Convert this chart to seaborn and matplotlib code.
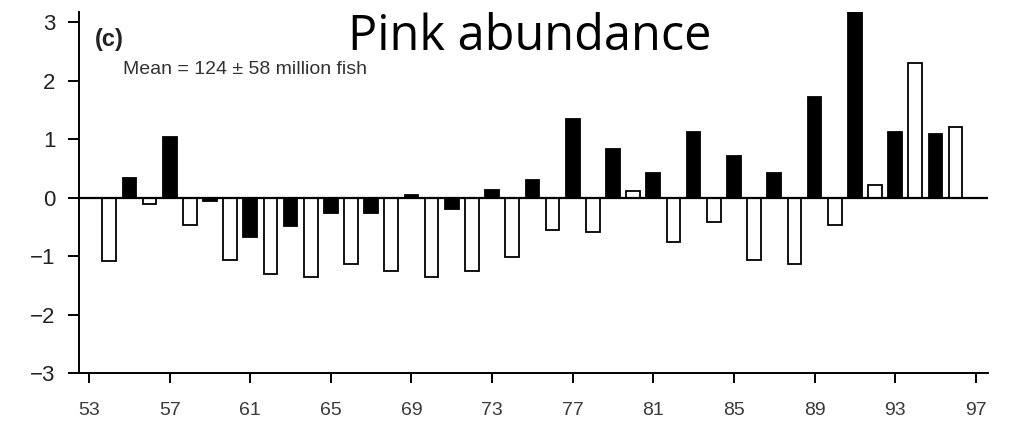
import matplotlib
matplotlib.use('Agg')
import matplotlib.pyplot as plt
import seaborn as sns
import pandas as pd

# pink salmon abundance anomalies, 1954-1996 (odd/even year lines)
years = list(range(54, 97))
anomaly = [-1.08, 0.34, -0.10, 1.04, -0.47, -0.05, -1.06, -0.68, -1.31, -0.48,
           -1.35, -0.27, -1.14, -0.27, -1.26, 0.04, -1.35, -0.19, -1.25, 0.13,
           -1.01, 0.30, -0.56, 1.35, -0.59, 0.84, 0.12, 0.42, -0.76, 1.13,
           -0.42, 0.72, -1.06, 0.42, -1.14, 1.72, -0.46, 3.30, 0.21, 1.13,
           2.30, 1.09, 1.21]
line = ['odd' if y % 2 else 'even' for y in years]
xticks = list(range(53, 98, 4))
yticks = [-3, -2, -1, 0, 1, 2, 3]

df = pd.DataFrame({'year': years, 'anomaly': anomaly, 'line': line})

sns.set_style('ticks')
plt.rcParams['font.family'] = ['Liberation Sans', 'DejaVu Sans']

fig = plt.figure(figsize=(10.09, 4.22), dpi=100)
ax = fig.add_axes([0.0783, 0.116, 0.9007, 0.856])

sns.barplot(data=df, x='year', y='anomaly', hue='line', native_scale=True,
            palette={'odd': 'black', 'even': 'white'}, edgecolor='black',
            linewidth=1.3, width=0.68, dodge=False, legend=False, ax=ax)

ax.axhline(0, color='black', lw=1.6, zorder=5)
ax.set_xlim(52.5, 97.6)
ax.set_ylim(-3, 3.18)
ax.set_xticks(xticks)
ax.set_xticklabels([str(t) for t in xticks])
ax.set_yticks(yticks)
ax.set_yticklabels(['\u22123', '\u22122', '\u22121', '0', '1', '2', '3'])
ax.set_xlabel('')
ax.set_ylabel('')
for s in ['top', 'right']:
    ax.spines[s].set_visible(False)
for s in ['left', 'bottom']:
    ax.spines[s].set_linewidth(1.4)
    ax.spines[s].set_color('black')
ax.tick_params(axis='both', color='black')
ax.tick_params(axis='y', direction='out', length=8, width=1.4, pad=9,
               labelsize=16, labelcolor='#222222')
ax.tick_params(axis='x', direction='out', length=7, width=1.4, pad=14,
               labelsize=14, labelcolor='#3a3a3a')

ax.text(0.0176, 0.922, '(c)', transform=ax.transAxes, fontsize=17,
        fontweight='bold', color='#222222', va='center')
ax.text(0.0484, 0.839, 'Mean = 124 \u00b1 58 million fish', transform=ax.transAxes,
        fontsize=14, color='#333333', va='center')
fig.text(348 / 1009, 1 - 50 / 422, 'Pink abundance', fontsize=35, color='black',
         family=['Open Sans', 'DejaVu Sans'], va='baseline', ha='left')

fig.savefig('out.png', dpi=100)
